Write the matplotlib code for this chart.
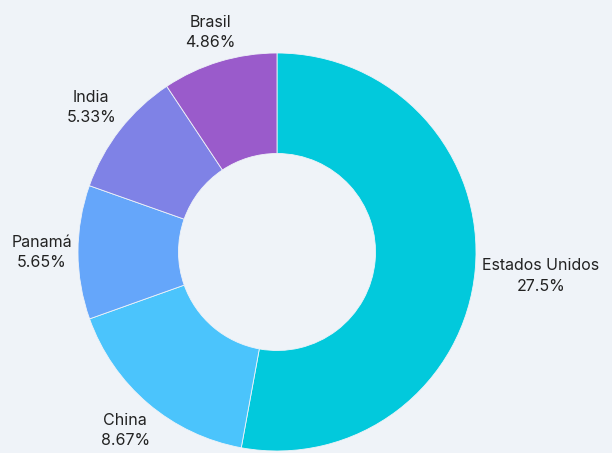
import numpy as np
import matplotlib
matplotlib.use("Agg")
import matplotlib.pyplot as plt

countries = ["Estados Unidos", "China", "Panamá", "India", "Brasil"]
shares = [27.5, 8.67, 5.65, 5.33, 4.86]
pct_labels = ["27.5%", "8.67%", "5.65%", "5.33%", "4.86%"]
colors = ["#02c9dc", "#4bc4fc", "#65a6fa", "#7f82e6", "#9a5bcb"]

BG = "#eff3f8"
W, H = 612, 453
fig = plt.figure(figsize=(W / 100, H / 100), dpi=100, facecolor=BG)
ax = fig.add_axes([0, 0, 1, 1])
ax.set_facecolor(BG)

cx, cy, R = 277, 201, 199
wedges, _ = ax.pie(shares, colors=colors, startangle=90, counterclock=False,
                   radius=R, center=(cx, cy), frame=True,
                   wedgeprops=dict(width=R * 0.505, edgecolor=BG, linewidth=0.6))
ax.set_xlim(0, W)
ax.set_ylim(0, H)
ax.set_aspect("equal")
ax.axis("off")

fig.canvas.draw()
renderer = fig.canvas.get_renderer()
gap = 205
for w, name, pct in zip(wedges, countries, pct_labels):
    mid = np.deg2rad((w.theta1 + w.theta2) / 2)
    t = ax.text(0, 0, f"{name}\n{pct}", ha="center", va="center",
                multialignment="center", fontsize=11.5, family="Inter",
                color="#222222", linespacing=1.45)
    bb = t.get_window_extent(renderer)
    hw, hh = bb.width / 2, bb.height / 2
    dx, dy = np.cos(mid), np.sin(mid)
    d = gap + abs(dx) * hw + abs(dy) * hh
    t.set_position((cx + d * dx, cy + d * dy))

fig.savefig("out.png", dpi=100, facecolor=BG)
